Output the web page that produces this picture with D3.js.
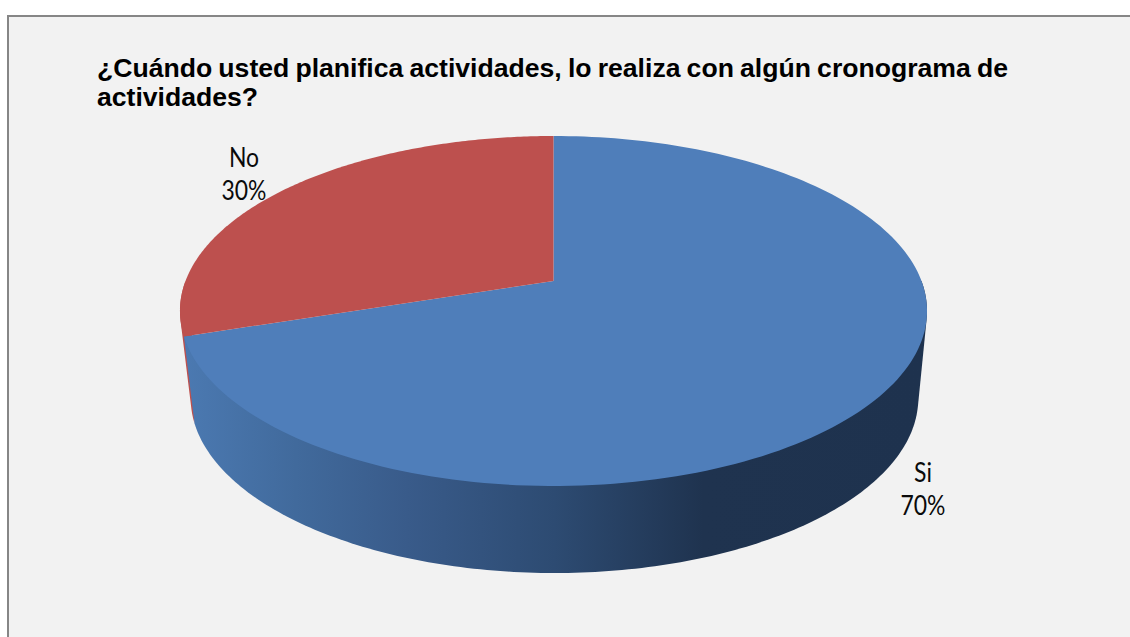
<!DOCTYPE html>
<html><head><meta charset="utf-8">
<script src="https://cdn.jsdelivr.net/npm/d3@7"></script>
<style>html,body{margin:0;padding:0;background:#fff}svg{display:block}</style></head>
<body><svg id="c" width="1130" height="637"></svg>
<script>
const categories = ["Si", "No"];
const percentages = [70, 30];
const sliceColors = ["#4f7eba", "#bd504e"];
const titleLines = ["¿Cuándo usted planifica actividades, lo realiza con algún cronograma de", "actividades?"];
const wallStops = [[0,"#4b79b1"],[0.15,"#416a9c"],[0.3,"#395b8a"],[0.5,"#2d4b72"],[0.7,"#1f334f"],[1,"#1e324e"]];

const svg = d3.select("#c");
const W = 1130, H = 637;
svg.append("rect").attr("x",8).attr("y",16).attr("width",W).attr("height",H)
  .attr("fill","#f2f2f2").attr("stroke","#868686").attr("stroke-width",2);

const defs = svg.append("defs");
const grad = defs.append("linearGradient").attr("id","wall")
  .attr("gradientUnits","userSpaceOnUse").attr("x1",185).attr("x2",925).attr("y1",0).attr("y2",0);
wallStops.forEach(s=>grad.append("stop").attr("offset",s[0]).attr("stop-color",s[1]));

// perspective disc
const cx=553.5, cy=311, ry=175, rxApex=368, persp=-30/175;
const depth=87, shrink=0.974, lowerShift=1;
function proj(theta, lower){
  const u=Math.sin(theta), v=-Math.cos(theta), d=1+persp*v;
  const x=rxApex*u/d, y=(ry*v-30)/d;
  return lower ? [cx+lowerShift+x*shrink, cy+y+depth] : [cx+x, cy+y];
}
const line=d3.line();
const sample=(a,b,lower)=>d3.range(0,181).map(i=>proj(a+(b-a)*i/180,lower));
const arcs=d3.pie().sort(null).startAngle(0).endAngle(2*Math.PI)(percentages);
const apex=[cx,cy-30];

// walls: convex hull of the upper and lower rim of each visible stretch
const PI=Math.PI;
const bl=arcs[0].endAngle;
const hull=(a,b)=>line(d3.polygonHull(sample(a,b,false).concat(sample(a,b,true))))+"Z";
svg.append("path").attr("d",hull(bl,1.5*PI)).attr("fill",sliceColors[1]);
svg.append("path").attr("d",hull(PI/2,bl)).attr("fill","url(#wall)");

// tops
svg.selectAll("path.top").data(arcs).join("path").attr("class","top")
  .attr("fill",(d,i)=>sliceColors[i])
  .attr("d",d=>line([apex].concat(sample(d.startAngle,d.endAngle,false)))+"Z");

// title
const title=svg.append("g").attr("font-family","'Liberation Sans',Arial,sans-serif")
  .attr("font-weight","bold").attr("font-size",26.6).attr("fill","#000");
titleLines.forEach((t,i)=>{
  const el=title.append("text").attr("x",97).attr("y",77+i*29).text(t);
  if(i===0){
    const w=el.node().getComputedTextLength();
    const gaps=t.split(" ").length-1;
    el.attr("word-spacing",(1008-97-w)/gaps);
  }
});

// labels
const labelPos=[[923,482],[244,167]];
const squeeze=0.85;
arcs.forEach((d,i)=>{
  const g=svg.append("text").attr("font-family","Lato,'Open Sans',sans-serif").attr("font-size",27)
    .attr("fill","#0a0a0a").attr("text-anchor","middle")
    .attr("transform",`translate(${labelPos[i][0]},${labelPos[i][1]}) scale(${squeeze},1)`);
  g.append("tspan").attr("x",0).attr("y",0).text(categories[i]);
  g.append("tspan").attr("x",0).attr("y",33.5).text(percentages[i]+"%");
});
</script></body></html>
